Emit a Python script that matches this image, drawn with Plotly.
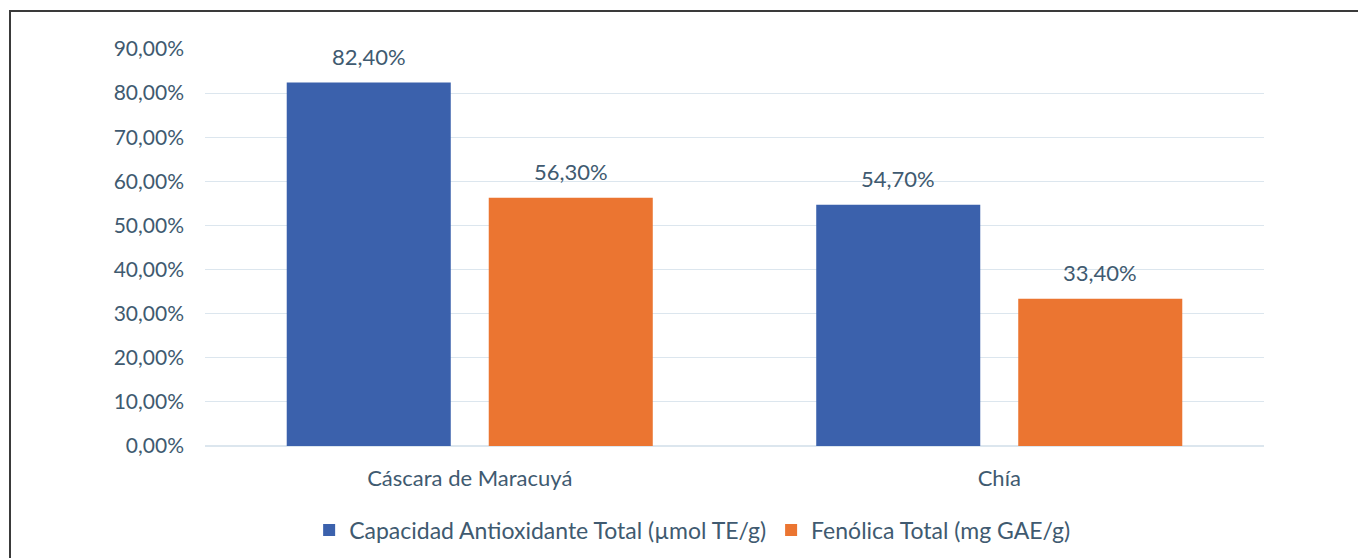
import plotly.graph_objects as go

categories = ["Cáscara de Maracuyá", "Chía"]
series_names = ["Capacidad Antioxidante Total (µmol TE/g)", "Fenólica Total (mg GAE/g)"]
capacidad = [0.824, 0.547]
fenolica = [0.563, 0.334]
series_values = [capacidad, fenolica]
series_colors = ["#3b61ac", "#eb7531"]

text_color = "#405a70"
font_family = "Lato, 'Open Sans', sans-serif"

W, H = 1358, 558
L, R, T, B = 205, 94, 49, 112
bargap, bargroupgap = 0.237, 0.188

fig = go.Figure()
for name, vals, col in zip(series_names, series_values, series_colors):
    fig.add_trace(go.Bar(
        x=categories, y=vals, name=name,
        marker=dict(color=col, line=dict(width=0)),
        hoverinfo="x+y",
    ))

# value labels above bars (offset derived from the grouped-bar layout)
plot_w = W - L - R
cat_w = plot_w / len(categories)
group_w = cat_w * (1 - bargap)
slot = group_w / len(series_values)
annotations = []
for i, vals in enumerate(series_values):
    off = -group_w / 2 + slot * (i + 0.5)
    for c, v in zip(categories, vals):
        annotations.append(dict(
            x=c, y=v, xref="x", yref="y", text=f"{v*100:.2f}%".replace(".", ","),
            showarrow=False, xshift=off, yshift=26, yanchor="middle",
            font=dict(size=22, color=text_color, family=font_family)))

fig.update_layout(
    width=W, height=H,
    margin=dict(l=L, r=R, t=T, b=B, autoexpand=False),
    paper_bgcolor="white", plot_bgcolor="white",
    separators=",.",
    barmode="group", bargap=bargap, bargroupgap=bargroupgap,
    font=dict(family=font_family, size=22, color=text_color),
    showlegend=True,
    legend=dict(orientation="h", x=0.46, xanchor="center",
                yref="container", y=(H - 530) / H, yanchor="middle",
                font=dict(size=23, color=text_color), itemwidth=30,
                bgcolor="rgba(0,0,0,0)"),
    xaxis=dict(showgrid=False, showline=False, ticks="", ticklabelstandoff=17,
               tickfont=dict(size=22, color=text_color)),
    yaxis=dict(range=[0, 0.9], dtick=0.1, tickformat=".2%", showgrid=True,
               gridcolor="#dce6ee", gridwidth=1, zeroline=True, zerolinecolor="#dce6ee",
               showline=False, ticks="", ticklabelstandoff=20,
               tickfont=dict(size=21, color=text_color)),
    annotations=annotations,
    shapes=[dict(type="rect", xref="paper", yref="paper",
                 x0=(10 - L) / plot_w, x1=1.3, y0=-0.5, y1=1 + (T - 11) / (H - T - B),
                 line=dict(color="#3a3a3a", width=2), fillcolor="rgba(0,0,0,0)", layer="below")],
)

fig.write_html("out.html")
